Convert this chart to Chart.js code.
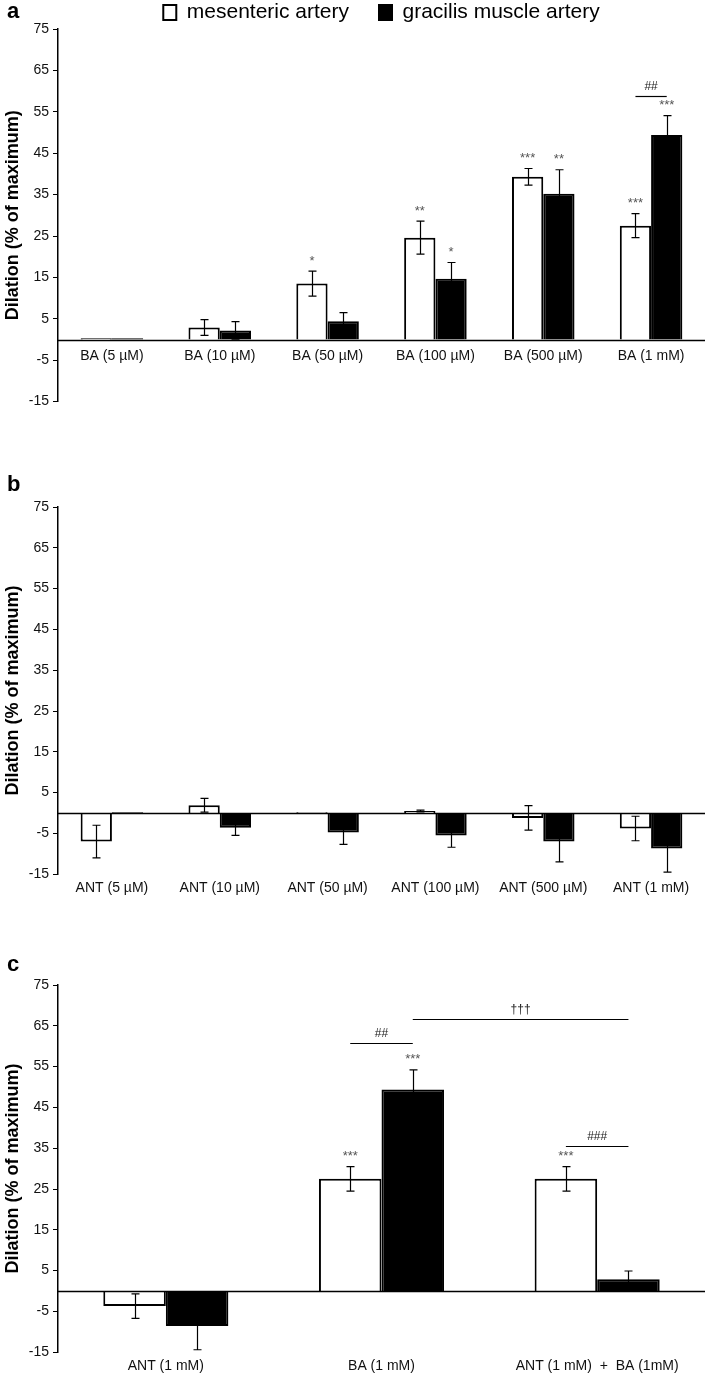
<!DOCTYPE html>
<html>
<head>
<meta charset="utf-8">
<title>Dilation (% of maximum)</title>
<script src="https://cdn.jsdelivr.net/npm/chart.js@4.4.1/dist/chart.umd.min.js"></script>
<style>
  html, body { margin: 0; padding: 0; background: #fff; }
  body { width: 706px; height: 1382px; position: relative; overflow: hidden; }
  .panel { position: absolute; left: 0; width: 706px; }
</style>
</head>
<body>
<div class="panel" style="top:-28px;height:442px"><canvas id="chartA"></canvas></div>
<div class="panel" style="top:470px;height:437px"><canvas id="chartB"></canvas></div>
<div class="panel" style="top:950px;height:431px"><canvas id="chartC"></canvas></div>

<script>
// ------------------------------------
// Data
// ------------------------------------
const seriesNames = ['mesenteric artery', 'gracilis muscle artery'];
const yTicks = [75, 65, 55, 45, 35, 25, 15, 5, -5, -15];

// panel a - BA alone
const catsA = ['BA (5 µM)', 'BA (10 µM)', 'BA (50 µM)', 'BA (100 µM)', 'BA (500 µM)', 'BA (1 mM)'];
const mesA = [0.3, 2.9, 13.5, 24.6, 39.3, 27.5];
const mesErrA = [0, 1.9, 3.0, 4.0, 2.0, 2.9];
const graA = [0.3, 2.2, 4.4, 14.7, 35.2, 49.4];
const graErrA = [0, 2.1, 2.1, 3.9, 5.8, 4.7];
const mesStarsA = ['', '', '*', '**', '***', '***'];
const graStarsA = ['', '', '', '*', '**', '***'];
const bracketsA = [
    { from: [5, 0], to: [5, 1], value: 58.8, text: '##' }
];

// panel b - ANT alone
const catsB = ['ANT (5 µM)', 'ANT (10 µM)', 'ANT (50 µM)', 'ANT (100 µM)', 'ANT (500 µM)', 'ANT (1 mM)'];
const mesB = [-7.0, 1.9, 0.2, 0.5, -1.2, -3.8];
const mesErrB = [4.0, 1.7, 0, 0.2, 3.0, 3.0];
const graB = [0.2, -3.6, -4.8, -5.5, -7.0, -8.7];
const graErrB = [0, 1.9, 2.9, 2.9, 5.0, 5.8];
const mesStarsB = ['', '', '', '', '', ''];
const graStarsB = ['', '', '', '', '', ''];
const bracketsB = [];

// panel c - ANT, BA and both
const catsC = ['ANT (1 mM)', 'BA (1 mM)', 'ANT (1 mM)  +  BA (1mM)'];
const mesC = [-3.7, 27.5, 27.5];
const mesErrC = [3.0, 3.0, 3.0];
const graC = [-8.6, 49.4, 2.9];
const graErrC = [5.8, 4.8, 2.0];
const mesStarsC = ['', '***', '***'];
const graStarsC = ['', '***', ''];
const bracketsC = [
    { from: [1, 0], to: [1, 1], value: 60.8, text: '##' },
    { from: [1, 1], to: [2, 1], value: 66.6, text: '†††' },
    { from: [2, 0], to: [2, 1], value: 35.6, text: '###' }
];

const NARROW = "'Liberation Sans Narrow', 'Liberation Sans', Arial, sans-serif";
const SANS = "'Liberation Sans', Arial, sans-serif";

// ------------------------------------
// Plugin: zero line, SEM whiskers, stars, brackets, panel letter
// ------------------------------------
const panelExtras = {
    id: 'panelExtras',
    afterDatasetsDraw(chart, args, opts) {
        const ctx = chart.ctx;
        const yScale = chart.scales.y;
        const area = chart.chartArea;
        ctx.save();

        // zero line
        const y0 = Math.round(yScale.getPixelForValue(0)) + 0.5;
        ctx.strokeStyle = '#000';
        ctx.lineWidth = 1.5;
        ctx.beginPath();
        ctx.moveTo(area.left, y0);
        ctx.lineTo(area.right, y0);
        ctx.stroke();

        // whiskers + significance stars
        ctx.lineWidth = 1.2;
        ctx.fillStyle = '#555';
        ctx.font = '13px ' + SANS;
        ctx.textAlign = 'center';
        ctx.textBaseline = 'middle';
        chart.data.datasets.forEach((ds, i) => {
            chart.getDatasetMeta(i).data.forEach((bar, j) => {
                const v = ds.data[j];
                const e = ds.errors[j];
                const x = Math.round(bar.x) + 0.5;
                const yt = yScale.getPixelForValue(v + e);
                const yb = yScale.getPixelForValue(v - e);
                if (e > 0) {
                    ctx.beginPath();
                    ctx.moveTo(x, yt); ctx.lineTo(x, yb);
                    ctx.moveTo(x - 4, yt); ctx.lineTo(x + 4, yt);
                    ctx.moveTo(x - 4, yb); ctx.lineTo(x + 4, yb);
                    ctx.stroke();
                }
                if (ds.stars[j]) {
                    ctx.fillText(ds.stars[j], bar.x, yt - 10);
                }
            });
        });

        // comparison brackets
        ctx.fillStyle = '#222';
        ctx.font = '12px ' + SANS;
        (opts.brackets || []).forEach(b => {
            const x1 = chart.getDatasetMeta(b.from[1]).data[b.from[0]].x;
            const x2 = chart.getDatasetMeta(b.to[1]).data[b.to[0]].x;
            const yy = Math.round(yScale.getPixelForValue(b.value)) + 0.5;
            ctx.beginPath();
            ctx.moveTo(x1, yy);
            ctx.lineTo(x2, yy);
            ctx.stroke();
            ctx.fillText(b.text, (x1 + x2) / 2, yy - 10);
        });
        ctx.restore();
    },
    afterDraw(chart, args, opts) {
        const ctx = chart.ctx;
        ctx.save();
        ctx.fillStyle = '#000';
        ctx.font = 'bold 22px ' + SANS;
        ctx.textAlign = 'left';
        ctx.textBaseline = 'middle';
        ctx.fillText(opts.letter, 7, opts.letterY);
        ctx.restore();
    }
};

// ------------------------------------
// Chart builder
// ------------------------------------
function buildChart(canvasId, cfg) {
    const ctx = document.getElementById(canvasId).getContext('2d');
    return new Chart(ctx, {
        type: 'bar',
        data: {
            labels: cfg.cats,
            datasets: [{
                label: seriesNames[0],
                data: cfg.mes,
                errors: cfg.mesErr,
                stars: cfg.mesStars,
                backgroundColor: '#fff',
                borderColor: '#000',
                borderWidth: 2
            }, {
                label: seriesNames[1],
                data: cfg.gra,
                errors: cfg.graErr,
                stars: cfg.graStars,
                backgroundColor: '#000',
                borderColor: '#000',
                borderWidth: 2
            }]
        },
        options: {
            responsive: true,
            maintainAspectRatio: false,
            animation: false,
            layout: { padding: cfg.padding },
            datasets: { bar: { categoryPercentage: 0.58, barPercentage: 1 } },
            plugins: {
                tooltip: { enabled: false },
                legend: cfg.legend ? {
                    display: true,
                    position: 'top',
                    fullSize: false,
                    maxHeight: 57,
                    labels: {
                        color: '#000',
                        font: { family: SANS, size: 21 },
                        boxWidth: 13,
                        boxHeight: 15,
                        padding: 30
                    }
                } : { display: false },
                panelExtras: { letter: cfg.letter, letterY: cfg.letterY, brackets: cfg.brackets }
            },
            scales: {
                x: {
                    position: cfg.xAtZero ? { y: 0 } : 'bottom',
                    grid: { display: false, drawTicks: false },
                    border: { display: false },
                    ticks: {
                        color: '#111',
                        font: { family: NARROW, size: 14 },
                        padding: cfg.xAtZero ? 8 : 6,
                        maxRotation: 0,
                        autoSkip: false
                    }
                },
                y: {
                    min: -15,
                    max: 75,
                    afterBuildTicks: s => { s.ticks = yTicks.map(v => ({ value: v })); },
                    afterFit: s => { s.width = 58; },
                    border: { display: true, color: '#000', width: 1.5 },
                    grid: { drawOnChartArea: false, drawTicks: true, tickLength: 5, color: '#000', lineWidth: 1 },
                    ticks: { color: '#111', font: { family: NARROW, size: 14 }, padding: 4 },
                    title: {
                        display: true,
                        text: 'Dilation (% of maximum)',
                        color: '#000',
                        font: { family: SANS, size: 18, weight: 'bold' },
                        padding: { top: 2, bottom: 0 }
                    }
                }
            }
        },
        plugins: [panelExtras]
    });
}

document.addEventListener('DOMContentLoaded', function() {
    buildChart('chartA', {
        letter: 'a', letterY: 40, legend: true, xAtZero: true,
        padding: { top: 0, right: 1, bottom: 11, left: 0 },
        cats: catsA, mes: mesA, mesErr: mesErrA, gra: graA, graErr: graErrA,
        mesStars: mesStarsA, graStars: graStarsA, brackets: bracketsA
    });
    buildChart('chartB', {
        letter: 'b', letterY: 15, legend: false, xAtZero: false,
        padding: { top: 37, right: 1, bottom: 4, left: 0 },
        cats: catsB, mes: mesB, mesErr: mesErrB, gra: graB, graErr: graErrB,
        mesStars: mesStarsB, graStars: graStarsB, brackets: bracketsB
    });
    buildChart('chartC', {
        letter: 'c', letterY: 15, legend: false, xAtZero: false,
        padding: { top: 35, right: 1, bottom: 0, left: 0 },
        cats: catsC, mes: mesC, mesErr: mesErrC, gra: graC, graErr: graErrC,
        mesStars: mesStarsC, graStars: graStarsC, brackets: bracketsC
    });
});
</script>
</body>
</html>
